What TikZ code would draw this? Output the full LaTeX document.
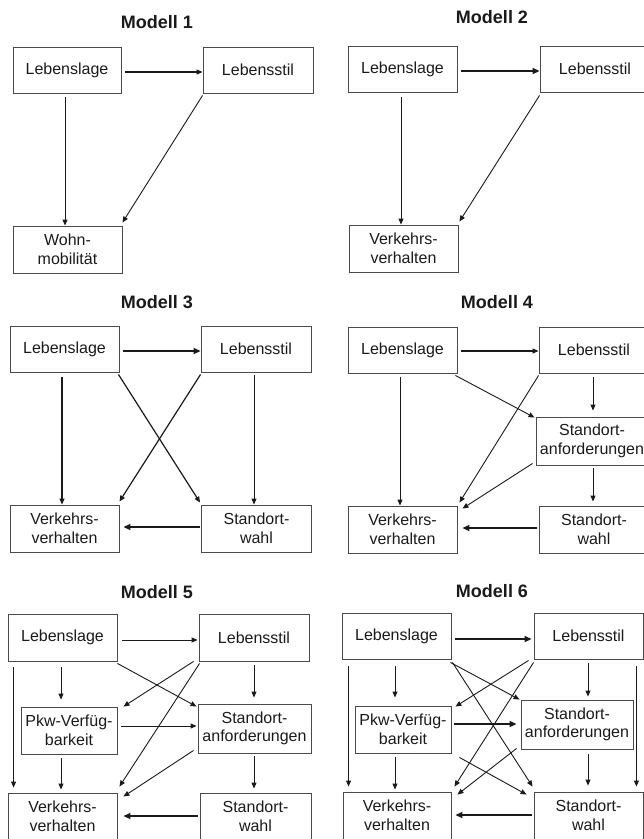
\documentclass[tikz,border=0pt]{standalone}
\usepackage{fontspec}
\setmainfont{Liberation Sans}
\usetikzlibrary{arrows.meta,calc}
\definecolor{boxgray}{HTML}{4A4A4A}
\definecolor{ink}{HTML}{1A1A1A}
\newcommand\labfont{\fontsize{16}{18.5}\selectfont}
\newcommand\titfont{\fontsize{18}{21}\selectfont\bfseries}
\begin{document}
\begin{tikzpicture}[x=1pt,y=-1pt,
  box/.style={draw=boxgray, line width=0.9pt, minimum width=#1, minimum height=46, inner sep=0pt, align=center, font=\labfont, text=ink},
  box/.default=109,
  title/.style={font=\titfont, text=ink, inner sep=0pt},
  arr/.style={draw=ink, line width=0.9pt, -{Triangle[length=6pt,width=5pt]}},
  heavy/.style={arr, line width=1.7pt, -{Triangle[length=7pt,width=6pt]}}
]
\useasboundingbox (0,0) rectangle (644,839);
\clip (0,0) rectangle (644,839);

% ---------------- Modell 1 ----------------
\node[title] (t1) at (157,22) {Modell 1};
\node[box=108] (a1) at (67,70) {Lebenslage};
\node[box=110] (b1) at (258,70) {Lebensstil};
\node[box, minimum height=47] (c1) at (67.5,249.5) {Wohn-\\mobilität};
\draw[arr, line width=1.2pt] ([shift={(4,2)}]a1.east) -- ([shift={(0,2)}]b1.west);
\draw[arr] ([shift={(-2,4)}]a1.south) -- ([shift={(-2.5,0)}]c1.north);
\draw[arr] ([shift={(0,2)}]b1.south west) -- ([shift={(0,-3)}]c1.north east);

% ---------------- Modell 2 ----------------
\node[title] (t2) at (492,17) {Modell 2};
\node[box] (a2) at (402.5,69) {Lebenslage};
\node[box=110] (b2) at (595,69) {Lebensstil};
\node[box, minimum height=47] (c2) at (403.5,248.5) {Verkehrs-\\verhalten};
\draw[heavy] ([shift={(4,2)}]a2.east) -- ([shift={(0,2)}]b2.west);
\draw[arr] ([shift={(-1.5,5)}]a2.south) -- ([shift={(-2.5,0)}]c2.north);
\draw[arr] ([shift={(0,3)}]b2.south west) -- ([shift={(1,-3)}]c2.north east);

% ---------------- Modell 3 ----------------
\node[title] (t3) at (157,302) {Modell 3};
\node[box] (a3) at (64.5,349) {Lebenslage};
\node[box=110] (b3) at (256,349) {Lebensstil};
\node[box, minimum height=47] (c3) at (64.5,528.5) {Verkehrs-\\verhalten};
\node[box=110, minimum height=47] (d3) at (256.5,528.5) {Standort-\\wahl};
\draw[heavy] ([shift={(4,2)}]a3.east) -- ([shift={(0,2)}]b3.west);
\draw[arr, line width=1.2pt] ([shift={(-2.5,5)}]a3.south) -- ([shift={(-2.5,0)}]c3.north);
\draw[arr, line width=1.2pt] ([shift={(-1,2)}]a3.south east) -- ([shift={(-1,-2)}]d3.north west);
\draw[arr, line width=1.2pt] ([shift={(0,2)}]b3.south west) -- ([shift={(0,-3)}]c3.north east);
\draw[arr] ([shift={(-2,3)}]b3.south) -- ([shift={(-2.5,0)}]d3.north);
\draw[heavy] ([shift={(-1,-1.5)}]d3.west) -- ([shift={(4,-1.5)}]c3.east);

% ---------------- Modell 4 ----------------
\node[title] (t4) at (497,302) {Modell 4};
\node[box] (a4) at (402.5,350) {Lebenslage};
\node[box=110] (b4) at (594,350) {Lebensstil};
\node[box=112, minimum height=48] (s4) at (592,441) {Standort-\\anforderungen};
\node[box=110, minimum height=47] (d4) at (594,529.5) {Standort-\\wahl};
\node[box, minimum height=47] (c4) at (402.5,529.5) {Verkehrs-\\verhalten};
\draw[arr, line width=1.2pt] ([shift={(4,1)}]a4.east) -- ([shift={(0,1)}]b4.west);
\draw[arr] ([shift={(-2.5,4)}]a4.south) -- ([shift={(-2.5,0)}]c4.north);
\draw[arr] ([shift={(-2,2)}]a4.south east) -- ([shift={(-1,1)}]s4.north west);
\draw[arr] ([shift={(-1,4)}]b4.south) -- ([shift={(1,-6)}]s4.north);
\draw[arr] ([shift={(0,2)}]b4.south west) -- ([shift={(2,-3)}]c4.north east);
\draw[arr] ([shift={(-3,-2)}]s4.south west) -- ([shift={(5,3)}]c4.north east);
\draw[arr] ([shift={(1,3)}]s4.south) -- ([shift={(-1,-4)}]d4.north);
\draw[heavy] ([shift={(-2,-1.5)}]d4.west) -- ([shift={(5,-1.5)}]c4.east);

% ---------------- Modell 5 ----------------
\node[title] (t5) at (157,592) {Modell 5};
\node[box, minimum height=47] (a5) at (62.5,637.5) {Lebenslage};
\node[box=110, minimum height=47] (b5) at (254,637.5) {Lebensstil};
\node[box=96, minimum height=47] (p5) at (69,730.5) {Pkw-Verfüg-\\barkeit};
\node[box=113, minimum height=49] (s5) at (254.5,728.5) {Standort-\\anforderungen};
\node[box, minimum height=47] (c5) at (62.5,816.5) {Verkehrs-\\verhalten};
\node[box=111, minimum height=47] (d5) at (255.5,816.5) {Standort-\\wahl};
\draw[arr] ([shift={(5,2.5)}]a5.east) -- ([shift={(-1,2.5)}]b5.west);
\draw[arr] ([shift={(6,6)}]a5.south west) -- ([shift={(6,-5)}]c5.north west);
\draw[arr] ([shift={(-1.5,6)}]a5.south) -- ([shift={(-8,-7)}]p5.north);
\draw[arr] ([shift={(0,4)}]b5.south) -- ([shift={(-0.5,-6)}]s5.north);
\draw[arr] ([shift={(0,2)}]a5.south east) -- ([shift={(-1,3)}]s5.north west);
\draw[arr] ([shift={(-5,0)}]b5.south west) -- ([shift={(6,0)}]p5.north east);
\draw[arr] ([shift={(1,2)}]b5.south west) -- ([shift={(2,-6)}]c5.north east);
\draw[arr] ([shift={(4,-4.5)}]p5.east) -- ([shift={(-1,-2.5)}]s5.west);
\draw[arr] ([shift={(-8,4)}]p5.south) -- ([shift={(-1.5,-3)}]c5.north);
\draw[arr] ([shift={(-4,-3)}]s5.south west) -- ([shift={(6,4)}]c5.north east);
\draw[arr] ([shift={(-0.5,3)}]s5.south) -- ([shift={(-1.5,-4)}]d5.north);
\draw[heavy] ([shift={(-2,-0.5)}]d5.west) -- ([shift={(6,-0.5)}]c5.east);

% ---------------- Modell 6 ----------------
\node[title] (t6) at (492,591) {Modell 6};
\node[box] (a6) at (396.5,636) {Lebenslage};
\node[box] (b6) at (588.5,636) {Lebensstil};
\node[box=96, minimum height=47] (p6) at (403,729.5) {Pkw-Verfüg-\\barkeit};
\node[box=112, minimum height=49] (s6) at (577,724.5) {Standort-\\anforderungen};
\node[box=108, minimum height=47] (c6) at (397,815.5) {Verkehrs-\\verhalten};
\node[box, minimum height=47] (d6) at (588.5,815.5) {Standort-\\wahl};
\draw[heavy] ([shift={(4,3)}]a6.east) -- ([shift={(-2,3)}]b6.west);
\draw[arr] ([shift={(7,7)}]a6.south west) -- ([shift={(6,-5)}]c6.north west);
\draw[arr] ([shift={(-1.5,7)}]a6.south) -- ([shift={(-8,-8)}]p6.north);
\draw[arr] ([shift={(-0.5,4)}]b6.south) -- ([shift={(11,-3)}]s6.north);
\draw[arr] ([shift={(-7,7)}]b6.south east) -- ([shift={(-7,-5)}]d6.north east);
\draw[arr] ([shift={(-1,3)}]a6.south east) -- ([shift={(-1,0)}]s6.north west);
\draw[arr] ([shift={(1,3)}]a6.south east) -- ([shift={(-1,-5)}]d6.north west);
\draw[arr] ([shift={(-5,1)}]b6.south west) -- ([shift={(4,1)}]p6.north east);
\draw[arr] ([shift={(0,3)}]b6.south west) -- ([shift={(3,-5)}]c6.north east);
\draw[heavy] ([shift={(3,-5.5)}]p6.east) -- ([shift={(-4,-0.5)}]s6.west);
\draw[arr] ([shift={(8,4)}]p6.south east) -- ([shift={(-7,3)}]d6.north west);
\draw[arr] ([shift={(-4,-1)}]s6.south west) -- ([shift={(6,3)}]c6.north east);
\draw[arr] ([shift={(-8,4)}]p6.south) -- ([shift={(-2,-2)}]c6.north);
\draw[arr] ([shift={(11,5)}]s6.south) -- ([shift={(-0.5,-6)}]d6.north);
\draw[heavy] ([shift={(-2,-0.5)}]d6.west) -- ([shift={(4,-0.5)}]c6.east);
\end{tikzpicture}
\end{document}
